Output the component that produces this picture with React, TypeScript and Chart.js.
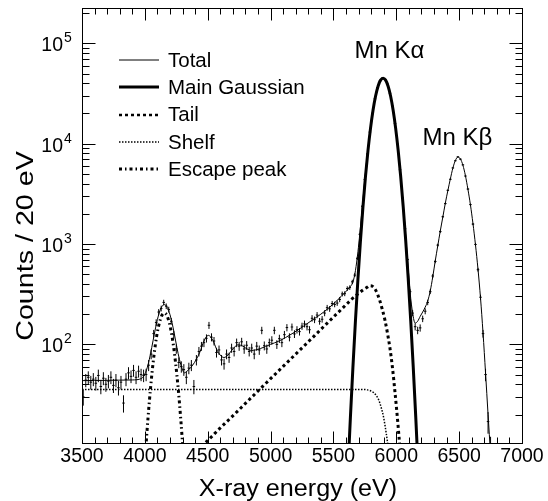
import React, { useEffect, useRef } from 'react';
import { Chart, registerables } from 'chart.js';

Chart.register(...registerables);

// ---- Histogram (20 eV bins starting at 3500 eV) ----
const BIN_START = 3500;
const BIN_WIDTH = 20;
const counts = [
  // 3510 - 3990
  30, 44, 47, 42, 45, 41, 49, 38, 46, 40, 43, 47, 39, 44, 37, 42, 26, 45, 52, 48, 55, 47, 54, 50, 49,
  // 4010 - 4310
  50, 62, 80, 128, 165, 210, 228, 262, 240, 222, 170, 125, 90, 66, 60, 56,
  // 4330 - 5690
  47, 58, 62, 38, 70, 85, 96, 104, 115, 155,
  118, 108, 83, 88, 70, 64, 80, 74, 92, 85,
  104, 96, 106, 90, 98, 85, 92, 80, 96, 88,
  138, 97, 90, 104, 110, 138, 100, 114, 104, 125,
  147, 118, 149, 127, 140, 134, 152, 160, 150, 140,
  182, 176, 196, 170, 178, 205, 232, 226, 255, 250,
  258, 280, 318, 320, 360, 368, 420, 490, 720,
  // 5710 - 6130
  1250, 2380, 4400, 7900, 13050, 20100, 28000, 36100, 42100, 45200, 43900,
  39300, 31800, 23700, 15900, 9870, 5500, 2880, 1420, 700, 335, 205,
  // 6150 - 6750
  150, 138, 146, 180, 214, 262, 335, 480, 670, 975, 1330, 1870, 2530, 3430, 4420, 5730,
  6760, 7390, 7010, 6150, 4760, 3530, 2470, 1580, 990, 555, 295, 128, 50, 17, 9,
];

// ---- Fit components ----
const totalE = [
  3500, 3600, 3700, 3800, 3900, 3975, 3995, 4015, 4035, 4055, 4075, 4095, 4115, 4135, 4155,
  4175, 4195, 4215, 4235, 4255, 4275, 4295, 4315, 4335, 4355, 4380, 4410, 4440, 4470, 4505,
  4540, 4570, 4600, 4630, 4660, 4700, 4740, 4780, 4820, 4850, 4880, 4920, 4960, 5000, 5060,
  5120, 5190, 5260, 5330, 5400, 5460, 5530, 5590, 5630, 5655, 5675, 5695, 5710, 5730, 5750,
  5770, 5790, 5810, 5830, 5850, 5870, 5890, 5910, 5930, 5950, 5970, 5990, 6010, 6030, 6050,
  6070, 6090, 6110, 6130, 6150, 6170, 6190, 6210, 6230, 6250, 6270, 6290, 6310, 6330, 6350,
  6370, 6390, 6410, 6430, 6450, 6470, 6490, 6510, 6530, 6550, 6570, 6590, 6610, 6630, 6650,
  6670, 6690, 6710, 6730, 6750,
];
const totalY = [
  43.5, 43.7, 43.8, 44, 44.2, 45.8, 49.3, 56.5, 70.3, 93.2, 126, 167, 207, 238, 249,
  238, 207, 167, 126, 93, 71, 58, 52, 54, 57, 62, 71, 85, 108, 123,
  110, 90, 78, 74, 78, 90, 99, 96, 89, 87, 88, 91, 95, 100, 107,
  117, 132, 151, 174, 200, 229, 275, 327, 372, 417, 542, 838, 1270, 2371, 4426,
  7886, 13096, 20028, 28081, 36019, 42200, 45110, 44040, 39220, 31870, 23620, 15960, 9840, 5530, 2930,
  1440, 685, 330, 205, 163, 170, 190, 210, 235, 270, 340, 470, 680, 960, 1350,
  1850, 2550, 3400, 4450, 5700, 6800, 7350, 7050, 6100, 4800, 3500, 2450, 1600, 980, 560,
  290, 130, 52, 20, 8,
];

const mainE = [
  5595, 5615, 5635, 5655, 5675, 5695, 5715, 5735, 5755, 5775, 5795, 5815, 5835, 5855, 5875, 5895,
  5915, 5935, 5955, 5975, 5995, 6015, 6035, 6055, 6075, 6095, 6115, 6135, 6155, 6175, 6195,
];
const mainY = [
  1.4, 5.4, 18.7, 59, 171, 450, 1080, 2360, 4710, 8570, 14220, 21530, 29720, 37410, 42950, 44980,
  42950, 37410, 29720, 21530, 14220, 8570, 4710, 2360, 1080, 450, 171, 59, 18.7, 5.4, 1.4,
];

const tailE = [
  4450, 4500, 4600, 4700, 4800, 4900, 5000, 5100, 5200, 5300, 5400, 5500, 5600, 5650, 5700, 5740,
  5770, 5790, 5810, 5830, 5850, 5870, 5890, 5910, 5930, 5950, 5970, 5990, 6010, 6030, 6050,
];
const tailY = [
  9.6, 11.0, 14.7, 19.4, 25.8, 34.3, 45.5, 60.3, 80, 106, 141, 187, 248, 285, 322, 352,
  372, 385, 380, 357, 318, 270, 220, 174, 129, 91, 58, 33, 17.8, 8.9, 4,
];

const shelfE = [3500, 5700, 5740, 5770, 5800, 5820, 5840, 5860, 5880, 5900, 5920, 5940, 5960];
const shelfY = [35.6, 35.6, 35.5, 35.2, 34.2, 33, 31, 28, 23.5, 18.5, 13, 8.5, 5];

const escapeE = [
  3975, 3995, 4015, 4035, 4055, 4075, 4095, 4115, 4135, 4155,
  4175, 4195, 4215, 4235, 4255, 4275, 4295, 4315, 4335,
];
const escapeY = [
  2.0, 5.3, 12.5, 26.3, 49.2, 82.3, 123, 163, 194, 205,
  194, 163, 123, 82.3, 49.2, 26.3, 12.5, 5.3, 2.0,
];

const xTickLabels = ['3500', '4000', '4500', '5000', '5500', '6000', '6500', '7000'];
const yDecadeExps = [2, 3, 4, 5];
const legendNames = ['Total', 'Main Gaussian', 'Tail', 'Shelf', 'Escape peak'];

const X_MIN = 3500;
const X_MAX = 7000;
const Y_MIN = 10.4;
const Y_MAX = 225000;

const FONT = '"Liberation Sans", Arial, Helvetica, sans-serif';

const toXY = (xs: number[], ys: number[]) => xs.map((x, i) => ({ x, y: ys[i] }));

const lineStyles = [
  { width: 1, dash: [] as number[], color: '#000' },
  { width: 3, dash: [] as number[], color: '#000' },
  { width: 3, dash: [3, 3], color: '#000' },
  { width: 1.5, dash: [1.5, 1.5], color: '#000' },
  { width: 3, dash: [3, 3, 1.5, 3], color: '#000' },
];

const errorBars = {
  id: 'errorBars',
  afterDatasetsDraw(chart: any) {
    const meta = chart.getDatasetMeta(0);
    const { ctx, chartArea } = chart;
    const xs = chart.scales.x;
    const ys = chart.scales.y;
    ctx.save();
    ctx.beginPath();
    ctx.rect(chartArea.left, chartArea.top, chartArea.right - chartArea.left, chartArea.bottom - chartArea.top);
    ctx.clip();
    ctx.strokeStyle = '#000';
    ctx.lineWidth = 1;
    ctx.setLineDash([]);
    meta.data.forEach((el: any, i: number) => {
      const n = counts[i];
      const e = Math.sqrt(n);
      const cx = BIN_START + BIN_WIDTH * (i + 0.5);
      const px = el.x;
      const py = el.y;
      const yt = ys.getPixelForValue(n + e);
      const yb = ys.getPixelForValue(Math.max(n - e, 0.01));
      const xl = xs.getPixelForValue(cx - BIN_WIDTH / 2);
      const xr = xs.getPixelForValue(cx + BIN_WIDTH / 2);
      ctx.beginPath();
      ctx.moveTo(px, yt);
      ctx.lineTo(px, yb);
      ctx.moveTo(xl, py);
      ctx.lineTo(xr, py);
      ctx.stroke();
    });
    ctx.restore();
  },
};

// draws text stretched along its own direction
const stretchedText = (ctx: any, text: string, x: number, y: number, rot: number, sx: number) => {
  ctx.save();
  ctx.translate(x, y);
  ctx.rotate(rot);
  ctx.scale(sx, 1);
  ctx.textAlign = 'center';
  ctx.fillText(text, 0, 0);
  ctx.restore();
};

const rootAxes = {
  id: 'rootAxes',
  beforeDraw(chart: any) {
    const { ctx, width, height } = chart;
    ctx.save();
    ctx.fillStyle = '#fff';
    ctx.fillRect(0, 0, width, height);
    ctx.restore();
  },
  afterDraw(chart: any) {
    const { ctx, chartArea } = chart;
    const xs = chart.scales.x;
    const ys = chart.scales.y;
    const L = Math.round(chartArea.left) + 0.5;
    const R = Math.round(chartArea.right) + 0.5;
    const T = Math.round(chartArea.top) + 0.5;
    const B = Math.round(chartArea.bottom) + 0.5;
    ctx.save();
    ctx.strokeStyle = '#000';
    ctx.lineWidth = 1;
    ctx.setLineDash([]);
    ctx.strokeRect(L, T, R - L, B - T);

    ctx.beginPath();
    for (let v = X_MIN; v <= X_MAX; v += 100) {
      const px = Math.round(xs.getPixelForValue(v)) + 0.5;
      const len = v % 500 === 0 ? 12 : 6;
      ctx.moveTo(px, B);
      ctx.lineTo(px, B - len);
      ctx.moveTo(px, T);
      ctx.lineTo(px, T + len);
    }
    for (let n = 1; n <= 5; n++) {
      for (let m = 1; m <= 9; m++) {
        const v = m * Math.pow(10, n);
        if (v < Y_MIN || v > Y_MAX) continue;
        const py = Math.round(ys.getPixelForValue(v)) + 0.5;
        const len = m === 1 ? 13 : 7;
        ctx.moveTo(L, py);
        ctx.lineTo(L + len, py);
        ctx.moveTo(R, py);
        ctx.lineTo(R - len, py);
      }
    }
    ctx.stroke();

    ctx.fillStyle = '#000';
    ctx.textBaseline = 'alphabetic';
    // x tick labels
    ctx.font = `19.5px ${FONT}`;
    ctx.textAlign = 'center';
    xTickLabels.forEach((lab) => {
      const px = xs.getPixelForValue(Number(lab));
      ctx.fillText(lab, px, 462);
    });
    // y tick labels 10^n
    yDecadeExps.forEach((n) => {
      const py = ys.getPixelForValue(Math.pow(10, n));
      ctx.font = `19.5px ${FONT}`;
      ctx.textAlign = 'right';
      ctx.fillText('10', 63, py + 8);
      ctx.font = `14px ${FONT}`;
      ctx.textAlign = 'left';
      ctx.fillText(String(n), 64, py - 1);
    });

    // axis titles
    ctx.font = `23.5px ${FONT}`;
    stretchedText(ctx, 'X-ray energy (eV)', 298, 496, 0, 1.07);
    ctx.font = `23.5px ${FONT}`;
    stretchedText(ctx, 'Counts / 20 eV', 33, 246, -Math.PI / 2, 1.22);

    // peak labels
    ctx.font = `24px ${FONT}`;
    ctx.textAlign = 'center';
    ctx.fillText('Mn K\u03b1', 389.5, 58);
    ctx.fillText('Mn K\u03b2', 457.5, 145);

    // legend
    legendNames.forEach((name, i) => {
      const y = 60 + i * 27.3;
      const st = lineStyles[i];
      ctx.save();
      ctx.strokeStyle = st.color;
      ctx.lineWidth = i === 2 ? 2.5 : st.width;
      ctx.setLineDash(st.dash);
      ctx.beginPath();
      ctx.moveTo(119, Math.round(y));
      ctx.lineTo(159, Math.round(y));
      ctx.stroke();
      ctx.restore();
      ctx.font = `20.5px ${FONT}`;
      ctx.textAlign = 'left';
      ctx.textBaseline = 'middle';
      ctx.fillText(name, 168, y + 1);
      ctx.textBaseline = 'alphabetic';
    });
    ctx.restore();
  },
};

export default function App() {
  const ref = useRef<HTMLCanvasElement | null>(null);
  useEffect(() => {
    if (!ref.current) return;
    const curve = (xs: number[], ys: number[], idx: number, label: string) => ({
      type: 'line' as const,
      label,
      data: toXY(xs, ys),
      borderColor: lineStyles[idx].color,
      borderWidth: lineStyles[idx].width,
      borderDash: lineStyles[idx].dash,
      pointRadius: 0,
      fill: false,
      cubicInterpolationMode: 'monotone' as const,
      clip: 0,
    });
    const chart = new Chart(ref.current, {
      type: 'line',
      data: {
        datasets: [
          {
            type: 'scatter' as const,
            label: 'Data',
            data: counts.map((c, i) => ({ x: BIN_START + BIN_WIDTH * (i + 0.5), y: c })),
            showLine: false,
            pointRadius: 0,
            clip: 0,
          } as any,
          curve(totalE, totalY, 0, legendNames[0]),
          curve(mainE, mainY, 1, legendNames[1]),
          curve(tailE, tailY, 2, legendNames[2]),
          curve(shelfE, shelfY, 3, legendNames[3]),
          curve(escapeE, escapeY, 4, legendNames[4]),
        ],
      },
      options: {
        animation: false,
        responsive: false,
        devicePixelRatio: 1,
        layout: { padding: { left: 82, right: 26, top: 8, bottom: 58 } },
        plugins: { legend: { display: false }, tooltip: { enabled: false } },
        events: [],
        scales: {
          x: { type: 'linear', min: X_MIN, max: X_MAX, display: false },
          y: { type: 'logarithmic', min: Y_MIN, max: Y_MAX, display: false },
        },
      },
      plugins: [rootAxes, errorBars],
    } as any);
    return () => chart.destroy();
  }, []);
  return (
    <div style={{ position: 'fixed', left: 0, top: 0, width: 548, height: 501, background: '#fff' }}>
      <canvas ref={ref} width={548} height={501} style={{ display: 'block' }} />
    </div>
  );
}
